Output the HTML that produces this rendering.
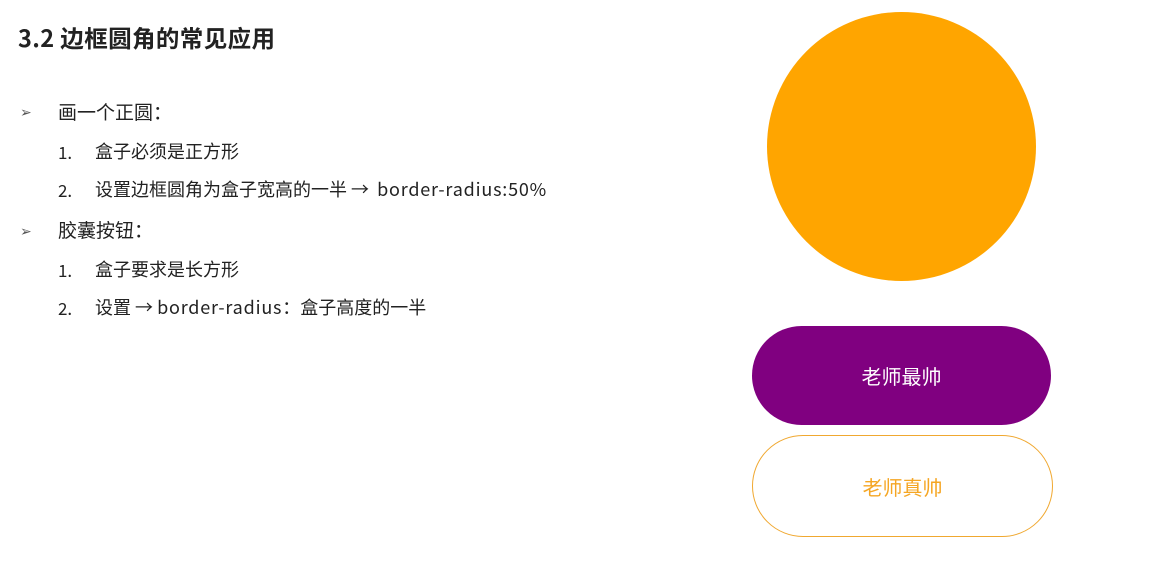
<!DOCTYPE html>
<html><head><meta charset="utf-8"><style>
body{margin:0;width:1151px;height:569px;background:#fff;position:relative;overflow:hidden;font-family:"Noto Sans CJK SC","Liberation Sans",sans-serif;color:#222}
.a{position:absolute;white-space:nowrap;line-height:1}
.l{letter-spacing:0.8px}
</style></head><body>
<div class="a" style="left:18px;top:26px;font-size:23.5px;font-weight:bold;letter-spacing:0.4px">3.2 边框圆角的常见应用</div>
<div class="a" style="left:20px;top:105px;font-size:14px;color:#555">➢</div>
<div class="a" style="left:58px;top:102px;font-size:19px">画一个正圆：</div>
<div class="a" style="left:58px;top:143px;font-size:17px">1.</div>
<div class="a" style="left:95px;top:142px;font-size:18px">盒子必须是正方形</div>
<div class="a" style="left:58px;top:181px;font-size:17px">2.</div>
<div class="a" style="left:95px;top:180px;font-size:18px">设置边框圆角为盒子宽高的一半 → &nbsp;<span class="l">border-radius:50%</span></div>
<div class="a" style="left:20px;top:224px;font-size:14px;color:#555">➢</div>
<div class="a" style="left:58px;top:220px;font-size:19px">胶囊按钮：</div>
<div class="a" style="left:58px;top:261px;font-size:17px">1.</div>
<div class="a" style="left:95px;top:260px;font-size:18px">盒子要求是长方形</div>
<div class="a" style="left:58px;top:299px;font-size:17px">2.</div>
<div class="a" style="left:95px;top:298px;font-size:18px">设置 → <span class="l">border-radius</span>：盒子高度的一半</div>
<div style="position:absolute;left:767px;top:12px;width:269px;height:269px;border-radius:50%;background:#FFA500"></div>
<div style="position:absolute;left:752px;top:326px;width:299px;height:99px;border-radius:50px;background:#800080;color:#fff;font-size:20px;display:flex;align-items:center;justify-content:center">老师最帅</div>
<div style="position:absolute;left:752px;top:435px;width:299px;height:100px;border-radius:51px;border:1px solid #f0a830;color:#f5a623;font-size:20px;display:flex;align-items:center;justify-content:center">老师真帅</div>
</body></html>
